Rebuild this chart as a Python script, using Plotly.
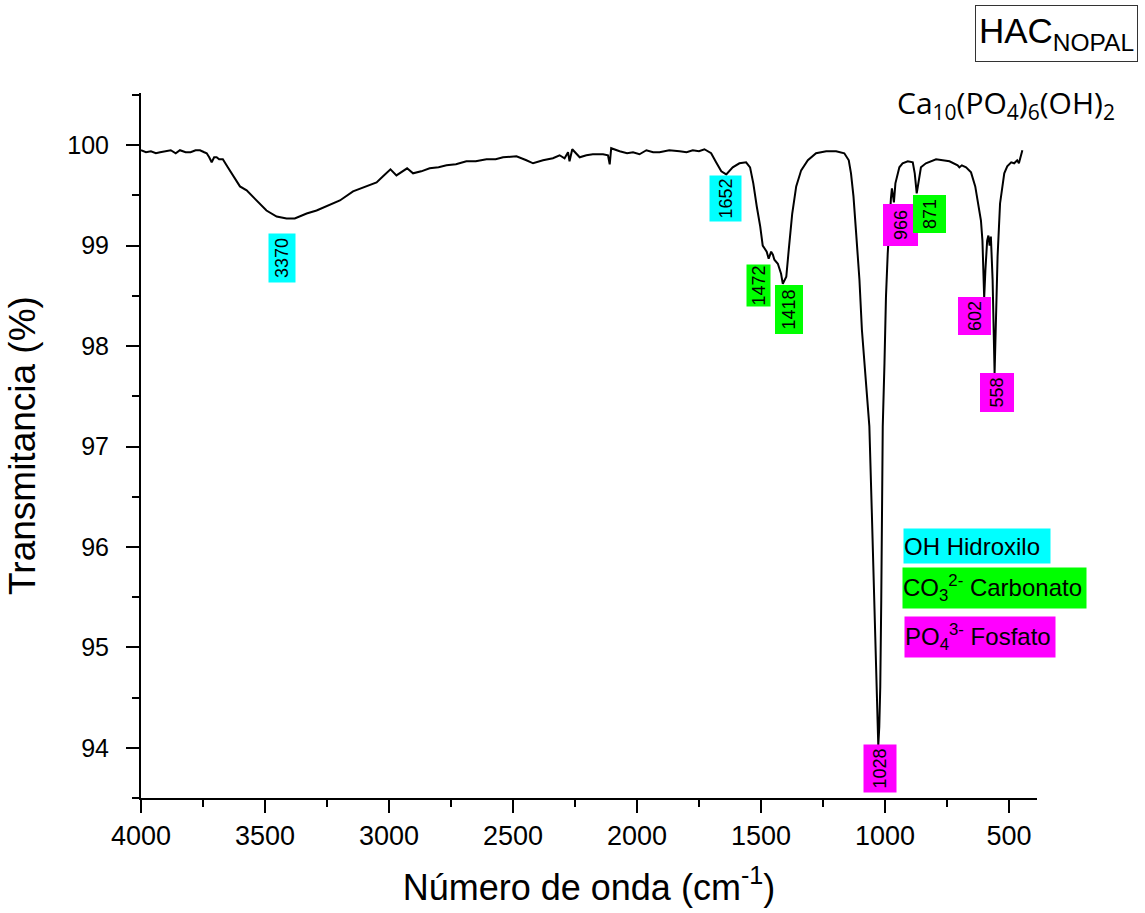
import plotly.graph_objects as go

# ---------------- data ----------------
wavenumber = [4000, 3980, 3960, 3940, 3923, 3900, 3880, 3860, 3843, 3820, 3800, 3780, 3762, 3745,
              3735, 3725, 3715, 3705, 3695, 3685, 3670, 3650, 3629, 3601,
              3574, 3534, 3494, 3453, 3413, 3380, 3332, 3292, 3252, 3198, 3145, 3091, 3050, 3024,
              2994, 2970, 2950, 2927, 2903, 2870, 2836, 2800, 2768, 2730, 2688, 2650, 2607, 2570,
              2540, 2486, 2446, 2419, 2379,
              2339, 2312, 2292, 2278, 2272, 2261, 2231, 2204, 2178, 2137, 2117, 2110, 2104, 2070,
              2040, 2016, 1990, 1962, 1935, 1909, 1870, 1828, 1800, 1775, 1750, 1728, 1701, 1681,
              1660, 1640, 1614, 1587, 1560, 1544,
              1531, 1517, 1503, 1493, 1477, 1469, 1459, 1452, 1446, 1432, 1419, 1412, 1398, 1388,
              1374, 1358, 1338, 1311, 1278, 1237, 1197, 1164, 1146, 1137, 1127, 1117, 1103, 1093,
              1083, 1072, 1063, 1053, 1043, 1034, 1030, 1027, 1023, 1019, 1015, 1012, 1009, 1002,
              996, 989, 982, 976, 972, 968, 964, 958, 942, 929, 908, 888, 880, 872, 864, 855, 835,
              794, 740, 707, 700, 690, 673, 653, 636, 627, 613, 607, 603, 600, 595, 588, 583, 578,
              573, 566, 558, 552, 546, 536, 519, 507, 491, 479, 467, 460, 455, 446]
transmittance = [99.95, 99.93, 99.94, 99.92, 99.93, 99.94, 99.95, 99.92, 99.95, 99.93, 99.93, 99.95,
                 99.95, 99.93, 99.92, 99.88, 99.83, 99.88, 99.88, 99.86, 99.86, 99.78,
                 99.70, 99.59, 99.55, 99.45, 99.35, 99.29, 99.27, 99.27, 99.32, 99.35, 99.39, 99.45,
                 99.54, 99.59, 99.63, 99.69, 99.76, 99.70, 99.73, 99.77, 99.72, 99.74, 99.77, 99.78,
                 99.80, 99.81, 99.84, 99.84, 99.86, 99.86,
                 99.88, 99.89, 99.85, 99.82, 99.85, 99.87, 99.90, 99.87, 99.93, 99.84, 99.96,
                 99.88, 99.90, 99.91, 99.91, 99.90, 99.81, 99.97, 99.94, 99.92, 99.93, 99.91, 99.95,
                 99.93, 99.93, 99.95, 99.94, 99.93, 99.95, 99.94, 99.96, 99.92, 99.83, 99.74, 99.71,
                 99.78, 99.82, 99.83, 99.78, 99.62, 99.39,
                 99.19, 99.00, 98.94, 98.87, 98.94, 98.91, 98.86, 98.82, 98.72, 98.62, 98.69, 98.96,
                 99.32, 99.59, 99.75, 99.85, 99.92, 99.94, 99.94, 99.92, 99.85, 99.72, 99.49, 99.15,
                 98.66, 98.16, 97.83, 97.50, 97.20, 96.34, 95.47, 94.61, 94.21, 94.02, 94.21, 94.61,
                 95.47, 96.30, 97.20, 97.83, 98.49, 98.92, 99.25, 99.47, 99.57, 99.50, 99.43, 99.62,
                 99.78, 99.82, 99.84, 99.83, 99.72, 99.52, 99.65, 99.78, 99.82, 99.86, 99.84, 99.80,
                 99.78, 99.80, 99.78, 99.73, 99.59, 99.45, 99.25, 99.05, 98.76, 98.48, 98.76, 99.05,
                 99.10, 99.00, 99.09, 98.66, 97.73, 98.49, 98.89, 99.42, 99.72, 99.79, 99.83, 99.82,
                 99.85, 99.82, 99.87, 99.95]

peak_labels = ["3370", "1652", "1472", "1418", "966", "871", "602", "558", "1028"]
peak_groups = ["OH", "OH", "CO3", "CO3", "PO4", "CO3", "PO4", "PO4", "PO4"]
legend_texts = {"OH": "OH Hidroxilo",
                "CO3": "CO<sub>3</sub><sup>2-</sup> Carbonato",
                "PO4": "PO<sub>4</sub><sup>3-</sup> Fosfato"}
legend_order = ["OH", "CO3", "PO4"]
x_title = "Número de onda (cm<sup>-1</sup>)"
y_title = "Transmitancia (%)"
sample_title = "HAC<sub>NOPAL</sub>"
formula = "Ca<sub>10</sub>(PO<sub>4</sub>)<sub>6</sub>(OH)<sub>2</sub>"

# ---------------- styling ----------------
W, H = 1145, 913
L, R, T, B = 141, 1037, 93, 798
group_colors = {"OH": "#00FFFF", "CO3": "#00FF00", "PO4": "#FF00FF"}
FONT = "Liberation Sans, Arial, sans-serif"

def pxx(x):
    return (x - L) / (R - L)

def pxy(y):
    return (B - y) / (B - T)

# label boxes: centre x, centre y, horizontal extent, vertical extent (pixels)
label_boxes = [(282, 258, 26, 48), (725.5, 198.5, 31, 45), (758.5, 285.5, 23, 41),
               (788.5, 310, 27, 48), (900, 225.5, 34, 41), (929, 214.5, 32, 37),
               (974, 316.5, 32, 37), (997.5, 393, 33, 38), (880, 769, 32, 47)]
legend_boxes = [(903, 546, 146, 34), (902, 588, 183, 40), (904, 637, 150, 40)]

fig = go.Figure()
fig.add_trace(go.Scatter(x=wavenumber, y=transmittance, mode="lines",
                         line=dict(color="black", width=2), showlegend=False,
                         hoverinfo="x+y"))

annotations = []
for txt, grp, (cx, cy, bw, bh) in zip(peak_labels, peak_groups, label_boxes):
    annotations.append(dict(text=txt, x=pxx(cx), y=pxy(cy), xref="paper", yref="paper",
                            xanchor="center", yanchor="middle", showarrow=False,
                            textangle=-90, bgcolor=group_colors[grp], borderpad=0,
                            width=bh, height=bw, align="center",
                            font=dict(family=FONT, size=18, color="black")))

for grp, (lx, cy, bw, bh) in zip(legend_order, legend_boxes):
    annotations.append(dict(text=legend_texts[grp], x=pxx(lx), y=pxy(cy), xref="paper",
                            yref="paper", xanchor="left", yanchor="middle", showarrow=False,
                            bgcolor=group_colors[grp], borderpad=0, width=bw, height=bh,
                            align="left", valign="middle",
                            font=dict(family=FONT, size=24, color="black")))

annotations.append(dict(text=sample_title, x=pxx(1056.5), y=pxy(33.5), xref="paper",
                        yref="paper", xanchor="center", yanchor="middle", showarrow=False,
                        bgcolor="white", bordercolor="#333333", borderwidth=1, borderpad=0,
                        width=161, height=55, align="center",
                        font=dict(family=FONT, size=35, color="black")))
annotations.append(dict(text=formula, x=pxx(1006), y=pxy(104), xref="paper", yref="paper",
                        xanchor="center", yanchor="middle", showarrow=False,
                        font=dict(family="Open Sans, Noto Sans, sans-serif", size=30,
                                  color="black")))

fig.update_layout(
    width=W, height=H,
    margin=dict(l=L, r=W - R, t=T, b=H - B, pad=0),
    paper_bgcolor="white", plot_bgcolor="white",
    font=dict(family=FONT, color="black"),
    annotations=annotations,
    showlegend=False,
)
fig.update_xaxes(range=[4000, 387], tick0=0, dtick=500, ticks="outside", ticklen=13,
                 tickwidth=2, tickcolor="black", showline=True, linewidth=2, linecolor="black",
                 showgrid=False, zeroline=False, tickfont=dict(family=FONT, size=27, color="black"),
                 minor=dict(dtick=250, ticks="outside", ticklen=7, tickwidth=2, tickcolor="black"),
                 title=dict(text=x_title, font=dict(family=FONT, size=36, color="black"),
                            standoff=24))
fig.update_yaxes(range=[93.5, 100.52], tick0=0, dtick=1, ticks="outside", ticklen=13,
                 tickwidth=2, tickcolor="black", showline=True, linewidth=2, linecolor="black",
                 showgrid=False, zeroline=False, tickfont=dict(family=FONT, size=25, color="black"),
                 ticklabelstandoff=12,
                 minor=dict(dtick=0.5, ticks="outside", ticklen=7, tickwidth=2, tickcolor="black"),
                 title=dict(text=y_title, font=dict(family=FONT, size=37, color="black"),
                            standoff=20))

fig.write_html("out.html")
